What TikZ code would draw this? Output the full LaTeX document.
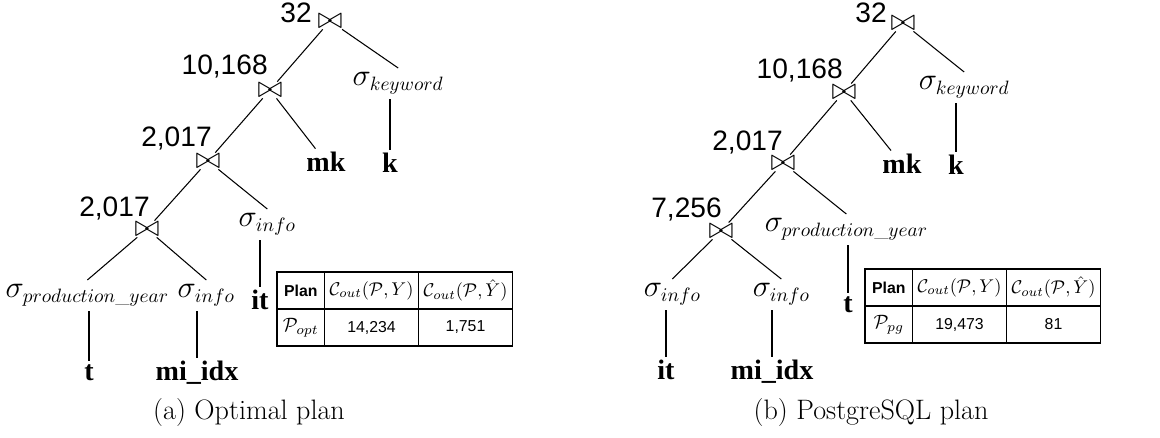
\documentclass[tikz,border=0pt]{standalone}
\usepackage{fix-cm}
\usepackage{amsmath,amssymb}
\usepackage{fontspec}
\newfontfamily\numfont{Liberation Sans}
\newfontfamily\relfont{Liberation Serif}
\usetikzlibrary{matrix}
\DeclareMathSizes{17.5}{17.5}{11}{8}
\newcommand{\cout}[1]{{\fontsize{10.5}{12}\selectfont$\mathcal{C}_{out}(\mathcal{P},#1)$}}
\newcommand{\plan}[1]{{\fontsize{11}{13}\selectfont$\mathcal{P}_{#1}$}}

\begin{document}
\begin{tikzpicture}[x=0.02cm, y=-0.02cm,
		card/.style={font=\numfont\fontsize{16}{19}\selectfont, inner sep=0pt, text depth=0pt, anchor=base east},
		jn/.style={font=\fontsize{17.5}{20}\selectfont, inner sep=0.5pt},
		sel/.style={font=\fontsize{17.5}{20}\selectfont, inner sep=2.5pt, anchor=base west},
		rel/.style={font=\relfont\bfseries\fontsize{16}{19}\selectfont, inner sep=2pt, anchor=base},
		link/.style={draw=black, line width=0.6pt},
		capt/.style={font=\fontsize{16}{19}\selectfont, anchor=base},
		cost/.style={matrix of nodes, anchor=north west, inner sep=0pt,
			row sep=-0.8pt, column sep=-0.8pt,
			nodes={draw, line width=0.8pt, anchor=center, minimum height=0.74cm, inner sep=0.5pt,
				font=\numfont\fontsize{9}{11}\selectfont},
			column 1/.style={nodes={minimum width=0.95cm}},
			column 2/.style={nodes={minimum width=1.88cm}},
			column 3/.style={nodes={minimum width=1.88cm}}}
		]
		\useasboundingbox (0,0) rectangle (1160,438);
		
		\node[jn] (a1) at (330,21) {$\bowtie$};
		\node[jn] (a2) at (270,90) {$\bowtie$};
		\node[jn] (a3) at (208,161) {$\bowtie$};
		\node[jn] (a4) at (147,229) {$\bowtie$};
		\node[card] (ca1) at (312,23) {32};
		\node[card] (ca2) at (268,75) {10,168};
		\node[card] (ca3) at (212,147) {2,017};
		\node[card] (ca4) at (150,217) {2,017};
		\node[sel] (skwa) at (348,86) {$\sigma_{keyword}$};
		\node[sel] (sinfa1) at (234,227) {$\sigma_{info}$};
		\node[sel] (sprda) at (1,298) {$\sigma_{production\_year}$};
		\node[sel] (sinfa2) at (173,298) {$\sigma_{info}$};
		\node[rel] (ka) at (390,173) {k};
		\node[rel] (mka) at (326,172) {mk};
		\node[rel] (ita) at (260,310) {it};
		\node[rel] (ta) at (89,381) {t};
		\node[rel] (midxa) at (197,381) {mi\_idx};
		
		\draw[link] (a1) -- (a2);
		\draw[link] (a1) -- (skwa.north);
		\draw[link] (a2) -- (a3);
		\draw[link] (a2) -- (mka);
		\draw[link] (a3) -- (a4);
		\draw[link] (a3) -- (sinfa1.north);
		\draw[link] (a4) -- (sprda.north);
		\draw[link] (a4) -- (sinfa2.north);
		\draw[link] (ka |- skwa.south) -- (ka);
		\draw[link] (ita |- sinfa1.south) -- (ita);
		\draw[link] (ta |- sprda.south) -- (ta);
		\draw[link] (midxa |- sinfa2.south) -- (midxa);
		
		\matrix[cost] (taba) at (276,271) {
			\textbf{Plan} & \cout{Y} & \cout{\hat{Y}} \\
			\plan{opt} & 14,234 & 1,751 \\
		};
		\node[capt] (capa) at (249,420) {(a) Optimal plan};
		
		\node[jn] (b1) at (903,23) {$\bowtie$};
		\node[jn] (b2) at (844,92) {$\bowtie$};
		\node[jn] (b3) at (783,163) {$\bowtie$};
		\node[jn] (b4) at (721,231) {$\bowtie$};
		\node[card] (cb1) at (887,23) {32};
		\node[card] (cb2) at (843,79) {10,168};
		\node[card] (cb3) at (783,151) {2,017};
		\node[card] (cb4) at (722,218) {7,256};
		\node[sel] (skwb) at (914,90) {$\sigma_{keyword}$};
		\node[sel] (sprdb) at (760,232) {$\sigma_{production\_year}$};
		\node[sel] (sinfb1) at (639,297) {$\sigma_{info}$};
		\node[sel] (sinfb2) at (748,297) {$\sigma_{info}$};
		\node[rel] (kb) at (956,175) {k};
		\node[rel] (mkb) at (902,174) {mk};
		\node[rel] (tb) at (848,313) {t};
		\node[rel] (itb) at (666,380) {it};
		\node[rel] (midxb) at (772,380) {mi\_idx};
		
		\draw[link] (b1) -- (b2);
		\draw[link] (b1) -- (skwb.north);
		\draw[link] (b2) -- (b3);
		\draw[link] (b2) -- (mkb);
		\draw[link] (b3) -- (b4);
		\draw[link] (b3) -- (sprdb.north);
		\draw[link] (b4) -- (sinfb1.north);
		\draw[link] (b4) -- (sinfb2.north);
		\draw[link] (kb |- skwb.south) -- (kb);
		\draw[link] (tb |- sprdb.south) -- (tb);
		\draw[link] (itb |- sinfb1.south) -- (itb);
		\draw[link] (midxb |- sinfb2.south) -- (midxb);
		
		\matrix[cost] (tabb) at (864,268) {
			\textbf{Plan} & \cout{Y} & \cout{\hat{Y}} \\
			\plan{pg} & 19,473 & 81 \\
		};
		\node[capt] (capb) at (871,420) {(b) PostgreSQL plan};
	\end{tikzpicture}
\end{document}
